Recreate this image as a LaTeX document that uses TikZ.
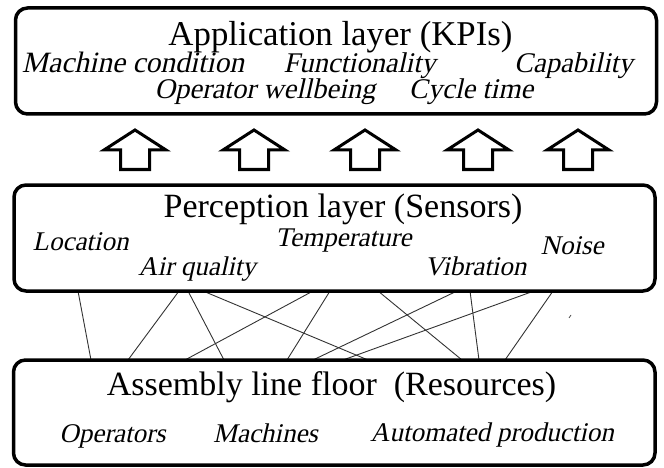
\documentclass[tikz,border=0pt]{standalone}
\usepackage{fontspec}
\setmainfont{Liberation Serif}
\newfontfamily\slantserif{Liberation Serif}[FakeSlant=0.22]
\begin{document}
\begin{tikzpicture}[x=1pt,y=-1pt]
\tikzset{
  layer/.style={draw, line width=3.5pt, rounded corners=12pt, inner sep=0pt},
  head/.style={anchor=base, inner sep=0pt, font=\fontsize{34}{40}\selectfont},
  item/.style={anchor=base, inner sep=0pt, font=\slantserif\fontsize{27}{32}\selectfont},
  kpi/.style={item, font=\slantserif\fontsize{28.5}{32}\selectfont},
  uparrow/.style={draw, line width=3pt, fill=white, line join=miter},
  link/.style={draw=black!80, line width=0.9pt},
}
\useasboundingbox (0,0) rectangle (664,468);

% links between the sensor layer and the resources
\foreach \a/\b [count=\i] in {78/91,179/128,188/224,203/368,313/185,330/287,457/313,378/462,534/343,470/479,553/505}{
  \coordinate (s\i) at (\a,291);
  \coordinate (r\i) at (\b,360);
  \draw[link] (s\i) -- (r\i);
}
\draw[black!70, line width=0.8pt] (569,318) -- (571,315);

% layer boxes
\node[layer, minimum width=641pt, minimum height=106pt] (app) at (336,61) {};
\node[layer, minimum width=641pt, minimum height=106pt] (per) at (334.5,238) {};
\node[layer, minimum width=641.5pt, minimum height=105pt] (res) at (334.25,412.5) {};

% application layer
\node[head, font=\fontsize{34.8}{40}\selectfont] (appt) at (340.5,46) {Application layer (KPIs)};
\node[kpi, font=\slantserif\fontsize{29.5}{32}\selectfont] (k1) at (133,73) {Machine condition};
\node[kpi] (k2) at (359.5,73) {Functionality};
\node[kpi] (k3) at (573.5,73) {Capability};
\node[kpi] (k4) at (265,99) {Operator wellbeing};
\node[kpi] (k5) at (471,99) {Cycle time};

% arrows from sensors to KPIs
\foreach \cx in {135,254,365,478,578}{
  \draw[uparrow] (\cx,130) -- (\cx+31,150) -- (\cx+14.5,150) -- (\cx+14.5,169.5)
    -- (\cx-14.5,169.5) -- (\cx-14.5,150) -- (\cx-31,150) -- cycle;
}

% perception layer
\node[head] (pert) at (343,217) {Perception layer (Sensors)};
\node[item] (p1) at (80.5,250) {Location};
\node[item] (p2) at (343.5,246) {Temperature};
\node[item] (p3) at (197,275) {Air quality};
\node[item] (p4) at (475.5,275) {Vibration};
\node[item] (p5) at (572,254) {Noise};

% resources
\node[head] (rest) at (331.5,395) {Assembly line floor~ (Resources)};
\node[item] (q1) at (112.5,442) {Operators};
\node[item] (q2) at (265.5,442) {Machines};
\node[item] (q3) at (492,441) {Automated production};
\end{tikzpicture}
\end{document}
